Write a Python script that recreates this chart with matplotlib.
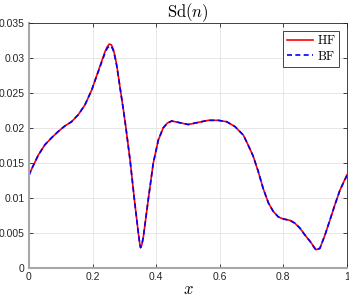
import matplotlib
matplotlib.use('Agg')
import matplotlib.pyplot as plt

plt.rcParams['mathtext.fontset'] = 'cm'
plt.rcParams['font.family'] = 'Liberation Sans'

# Data
x = [0.000, 0.009, 0.029, 0.050, 0.071, 0.092, 0.113, 0.134, 0.155, 0.176,
     0.197, 0.223, 0.239, 0.246, 0.2525, 0.259, 0.265, 0.270, 0.276, 0.286,
     0.297, 0.305, 0.318, 0.333, 0.344, 0.348, 0.351, 0.355, 0.360, 0.375,
     0.391, 0.407, 0.422, 0.435, 0.449, 0.470, 0.501, 0.532, 0.564, 0.595,
     0.622, 0.648, 0.674, 0.687, 0.705, 0.721, 0.737, 0.753, 0.768, 0.784,
     0.800, 0.821, 0.836, 0.852, 0.868, 0.884, 0.903, 0.915, 0.931, 0.947,
     0.962, 0.978, 1.000]
hf = [0.0133, 0.0142, 0.0161, 0.0176, 0.0186, 0.0195, 0.0203, 0.0209, 0.0219, 0.0233,
      0.0254, 0.0288, 0.0309, 0.0316, 0.0320, 0.0319, 0.0313, 0.0304, 0.0290, 0.0259,
      0.0226, 0.0200, 0.0154, 0.0092, 0.0050, 0.0036, 0.0029, 0.0033, 0.0045, 0.0097,
      0.0150, 0.0183, 0.0200, 0.0207, 0.0210, 0.0208, 0.0205, 0.0208, 0.0211, 0.0211,
      0.0209, 0.0202, 0.0190, 0.0178, 0.0160, 0.0138, 0.0113, 0.0093, 0.0081, 0.0073,
      0.0070, 0.0068, 0.0064, 0.0057, 0.0047, 0.0038, 0.0026, 0.0028, 0.0047, 0.0069,
      0.0090, 0.0111, 0.0133]
bf = [0.0132, 0.0142, 0.0161, 0.0176, 0.0186, 0.0195, 0.0203, 0.0209, 0.0219, 0.0233,
      0.0254, 0.0287, 0.0307, 0.0314, 0.0317, 0.0317, 0.0311, 0.0302, 0.0289, 0.0259,
      0.0226, 0.0200, 0.0154, 0.0092, 0.0050, 0.0036, 0.0029, 0.0033, 0.0045, 0.0097,
      0.0150, 0.0183, 0.0200, 0.0207, 0.0210, 0.0208, 0.0205, 0.0208, 0.0211, 0.0211,
      0.0209, 0.0202, 0.0190, 0.0178, 0.0160, 0.0138, 0.0113, 0.0093, 0.0081, 0.0073,
      0.0070, 0.0068, 0.0064, 0.0057, 0.0047, 0.0038, 0.0025, 0.0028, 0.0047, 0.0069,
      0.0090, 0.0111, 0.0132]

fig = plt.figure(figsize=(3.49, 3.0), dpi=100)
ax = fig.add_axes([0.083, 0.107, 0.911, 0.816])

ax.plot(x, hf, color='red', lw=1.2, label=r'$\mathrm{HF}$')
ax.plot(x, bf, color='blue', lw=1.2, ls=(0, (3, 2)), label=r'$\mathrm{BF}$')

ax.set_xlim(0, 1)
ax.set_ylim(0, 0.035)
ax.set_xticks([0, 0.2, 0.4, 0.6, 0.8, 1])
ax.set_xticklabels(['0', '0.2', '0.4', '0.6', '0.8', '1'])
ax.set_yticks([0, 0.005, 0.01, 0.015, 0.02, 0.025, 0.03, 0.035])
ax.set_yticklabels(['0', '0.005', '0.01', '0.015', '0.02', '0.025', '0.03', '0.035'])
ax.tick_params(direction='in', top=True, right=True, labelsize=7.5,
               colors='#262626', length=3, width=0.6, pad=3)
ax.grid(True, color='#e3e3e3', lw=0.6)
ax.set_axisbelow(True)

for s in ['left', 'bottom']:
    ax.spines[s].set_color('#a8a8a8')
    ax.spines[s].set_linewidth(1.5)
for s in ['top', 'right']:
    ax.spines[s].set_color('#262626')
    ax.spines[s].set_linewidth(0.6)

ax.set_title(r'$\mathrm{Sd}(n)$', fontsize=12, pad=4)
ax.set_xlabel(r'$x$', fontsize=12, labelpad=0)

leg = ax.legend(loc='upper right', fontsize=9, fancybox=False, framealpha=1,
                edgecolor='#262626', handlelength=2.1, handletextpad=0.3,
                borderpad=0.3, labelspacing=0.2, borderaxespad=0.6)
leg.get_frame().set_linewidth(0.6)

fig.savefig('out.png', dpi=100)
